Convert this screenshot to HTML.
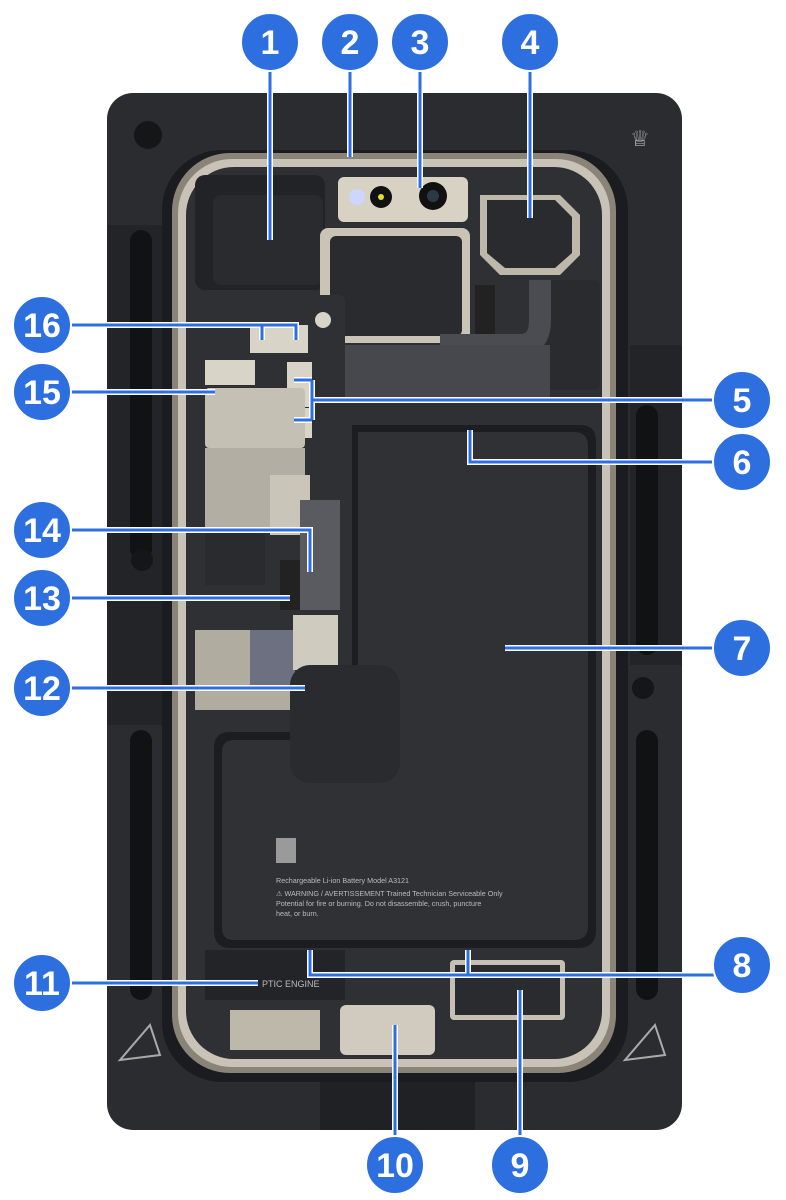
<!DOCTYPE html>
<html><head><style>
html,body{margin:0;padding:0;background:#fff;}
svg{display:block}
text{font-family:"Liberation Sans",sans-serif;}
</style></head><body>
<svg width="786" height="1200" viewBox="0 0 786 1200" xmlns="http://www.w3.org/2000/svg">
<rect x="107" y="93" width="575" height="1037" rx="26" fill="#2b2c30"/>
<rect x="107" y="225" width="55" height="500" fill="#232427"/>
<rect x="630" y="345" width="52" height="320" fill="#232427"/>
<rect x="130" y="230" width="22" height="330" rx="11" fill="#111214"/>
<rect x="130" y="730" width="22" height="270" rx="11" fill="#111214"/>
<rect x="636" y="405" width="22" height="250" rx="11" fill="#111214"/>
<rect x="636" y="730" width="22" height="270" rx="11" fill="#111214"/>
<circle cx="148" cy="135" r="14" fill="#151618"/>
<circle cx="142" cy="560" r="11" fill="#151618"/>
<circle cx="643" cy="688" r="11" fill="#151618"/>
<rect x="320" y="1075" width="155" height="55" fill="#202124"/>
<text x="640" y="146" font-size="22" fill="#bbb" text-anchor="middle">♕</text>
<path d="M120 1060 L150 1025 L160 1055 L120 1060 Z" fill="none" stroke="#aaa" stroke-width="2"/>
<path d="M625 1060 L655 1025 L665 1055 Z" fill="none" stroke="#aaa" stroke-width="2"/>
<rect x="162" y="150" width="466" height="932" rx="60" fill="#1b1c1f"/>
<rect x="172" y="153" width="444" height="920" rx="58" fill="#8a8478"/>
<rect x="178" y="159" width="432" height="908" rx="54" fill="#c8c3b6"/>
<rect x="186" y="167" width="416" height="892" rx="48" fill="#2f3034"/>
<rect x="195" y="175" width="130" height="115" rx="10" fill="#222326"/>
<rect x="213" y="195" width="110" height="90" rx="8" fill="#2a2b2e"/>
<rect x="338" y="177" width="130" height="45" rx="6" fill="#d8d2c4"/>
<circle cx="357" cy="197" r="8" fill="#ccd6ff"/>
<circle cx="381" cy="197" r="11" fill="#111"/>
<circle cx="381" cy="197" r="3" fill="#dd3"/>
<circle cx="433" cy="196" r="14" fill="#111"/>
<circle cx="433" cy="196" r="6" fill="#2a3a44"/>
<rect x="320" y="228" width="150" height="115" rx="8" fill="#c9c4b6"/>
<rect x="330" y="236" width="132" height="100" rx="6" fill="#2a2b2e"/>
<path d="M480 195 L560 195 L580 215 L580 255 L560 275 L500 275 L480 255 Z" fill="#bdb8aa"/>
<path d="M487 200 L555 200 L572 217 L572 253 L555 268 L505 268 L487 253 Z" fill="#2a2b2e"/>
<rect x="530" y="280" width="70" height="110" rx="6" fill="#2a2b2e"/>
<rect x="475" y="285" width="20" height="75" fill="#222"/>
<path d="M440 345 L520 345 Q540 345 540 320 L540 280" fill="none" stroke="#4b4c52" stroke-width="22"/>
<rect x="310" y="345" width="240" height="55" fill="#47484e"/>
<rect x="195" y="295" width="150" height="430" rx="6" fill="#2f3034"/>
<rect x="250" y="325" width="30" height="28" fill="#d9d4c8"/>
<rect x="278" y="325" width="30" height="28" fill="#d9d4c8"/>
<rect x="205" y="360" width="50" height="25" fill="#d9d4c8"/>
<rect x="287" y="362" width="25" height="45" fill="#d9d4c8"/>
<rect x="287" y="408" width="25" height="30" fill="#d9d4c8"/>
<rect x="205" y="388" width="100" height="60" rx="4" fill="#c4c0b4"/>
<rect x="205" y="448" width="100" height="80" fill="#b2aea3"/>
<rect x="270" y="475" width="40" height="60" fill="#c9c5b8"/>
<rect x="205" y="530" width="60" height="55" fill="#2a2b2e"/>
<rect x="300" y="500" width="40" height="110" fill="#5a5b60"/>
<rect x="280" y="560" width="20" height="50" fill="#222"/>
<rect x="195" y="630" width="100" height="80" fill="#b0aca0"/>
<rect x="250" y="630" width="45" height="55" fill="#6c7080"/>
<rect x="293" y="615" width="45" height="55" fill="#cfcbbf"/>
<rect x="295" y="672" width="40" height="25" fill="#cfcbbf"/>
<circle cx="323" cy="320" r="8" fill="#d9d4c8"/>
<circle cx="322" cy="705" r="7" fill="#d9d4c8"/>
<path d="M352 425 L580 425 Q596 425 596 441 L596 930 Q596 948 578 948 L230 948 Q214 948 214 930 L214 748 Q214 732 230 732 L336 732 Q352 732 352 716 Z" fill="#1c1d20"/>
<path d="M358 432 L574 432 Q588 432 588 446 L588 926 Q588 940 574 940 L234 940 Q222 940 222 928 L222 752 Q222 740 234 740 L340 740 Q358 740 358 722 Z" fill="#2f3135"/>
<rect x="290" y="665" width="110" height="118" rx="20" fill="#2a2b2f"/>
<rect x="276" y="838" width="20" height="25" fill="#9a9a9a"/>
<g font-size="7.2" fill="#bcbcbc">
<text x="276" y="883">Rechargeable Li-ion Battery   Model A3121</text>
<text x="276" y="896">⚠ WARNING / AVERTISSEMENT  Trained Technician Serviceable Only</text>
<text x="276" y="906">Potential for fire or burning. Do not disassemble, crush, puncture</text>
<text x="276" y="916">heat, or burn.</text>
</g>
<rect x="205" y="950" width="140" height="50" fill="#232427"/>
<text x="262" y="987" font-size="9" fill="#bbb">PTIC ENGINE</text>
<rect x="450" y="960" width="115" height="60" rx="4" fill="#c5c0b3"/>
<rect x="455" y="965" width="105" height="50" fill="#2a2b2e"/>
<rect x="340" y="1005" width="95" height="50" rx="6" fill="#d0cbbe"/>
<rect x="230" y="1010" width="90" height="40" fill="#bdb8aa"/>
<g fill="none">
<g stroke="#fff" stroke-width="6">
<path d="M270 42 V240"/><path d="M350 42 V157"/><path d="M420 42 V188"/><path d="M530 42 V218"/>
<path d="M42 325 H296 V340 M262 325 V340"/><path d="M42 392 H215"/>
<path d="M742 400 H312 M312 380 V420 M294 380 H312 M294 420 H312"/>
<path d="M742 462 H470 V430"/><path d="M42 530 H310 V572"/><path d="M42 598 H290"/>
<path d="M742 648 H505"/><path d="M42 688 H305"/>
<path d="M742 975 H310 V950 M468 975 V950"/><path d="M42 983 H258"/>
<path d="M395 1165 V1025"/><path d="M520 1165 V990"/>
</g>
<g stroke="#2e6fe0" stroke-width="3">
<path d="M270 42 V240"/><path d="M350 42 V157"/><path d="M420 42 V188"/><path d="M530 42 V218"/>
<path d="M42 325 H296 V340 M262 325 V340"/><path d="M42 392 H215"/>
<path d="M742 400 H312 M312 380 V420 M294 380 H312 M294 420 H312"/>
<path d="M742 462 H470 V430"/><path d="M42 530 H310 V572"/><path d="M42 598 H290"/>
<path d="M742 648 H505"/><path d="M42 688 H305"/>
<path d="M742 975 H310 V950 M468 975 V950"/><path d="M42 983 H258"/>
<path d="M395 1165 V1025"/><path d="M520 1165 V990"/>
</g>
</g>
<g font-size="34" fill="#fff" text-anchor="middle" font-weight="bold">
<g stroke="#fff" stroke-width="2" fill="#2e6fe0">
<circle cx="270" cy="42" r="29"/><circle cx="350" cy="42" r="29"/><circle cx="420" cy="42" r="29"/><circle cx="530" cy="42" r="29"/>
<circle cx="42" cy="325" r="29"/><circle cx="42" cy="392" r="29"/><circle cx="742" cy="400" r="29"/><circle cx="742" cy="462" r="29"/>
<circle cx="42" cy="530" r="29"/><circle cx="42" cy="598" r="29"/><circle cx="742" cy="648" r="29"/><circle cx="42" cy="688" r="29"/>
<circle cx="742" cy="965" r="29"/><circle cx="42" cy="983" r="29"/><circle cx="395" cy="1165" r="29"/><circle cx="520" cy="1165" r="29"/>
</g>
<text x="270" y="54">1</text><text x="350" y="54">2</text><text x="420" y="54">3</text><text x="530" y="54">4</text>
<text x="42" y="337">16</text><text x="42" y="404">15</text><text x="742" y="412">5</text><text x="742" y="474">6</text>
<text x="42" y="542">14</text><text x="42" y="610">13</text><text x="742" y="660">7</text><text x="42" y="700">12</text>
<text x="742" y="977">8</text><text x="42" y="995">11</text><text x="395" y="1177">10</text><text x="520" y="1177">9</text>
</g>
</svg>
</body></html>
